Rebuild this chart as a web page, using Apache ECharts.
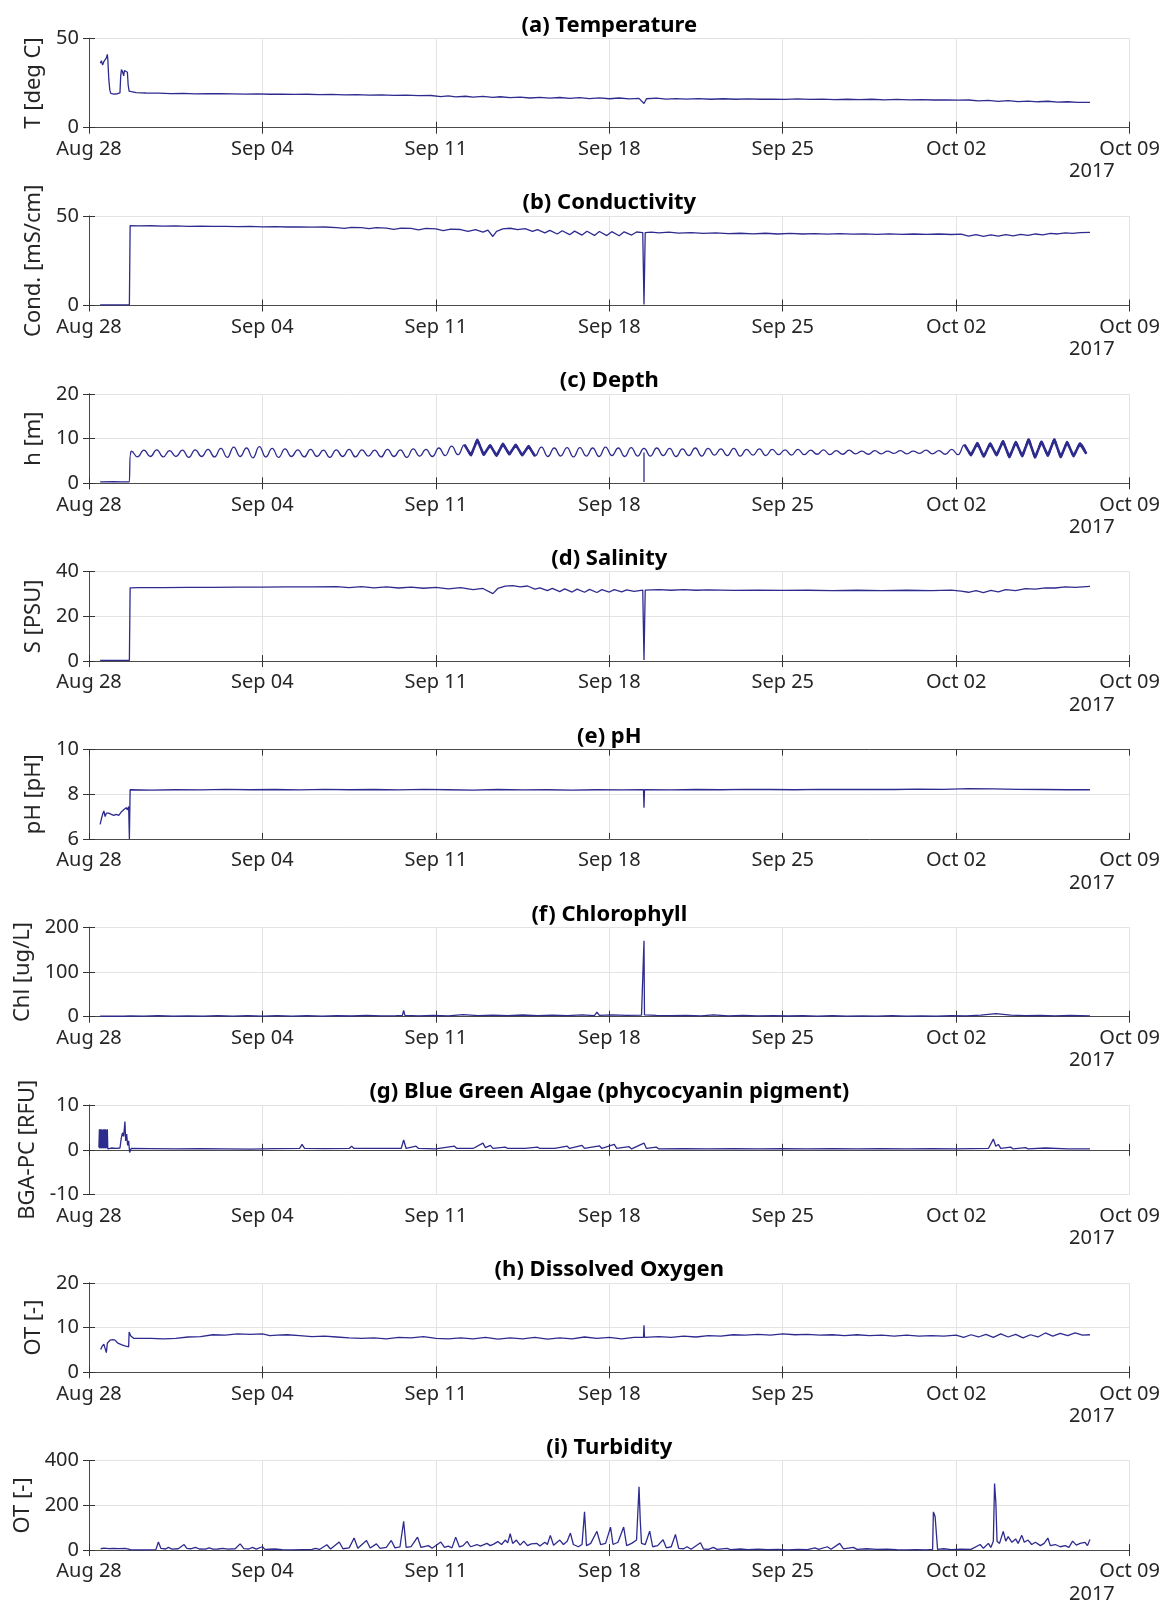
<!DOCTYPE html>
<html>
<head>
<meta charset="utf-8">
<script src="https://cdn.jsdelivr.net/npm/echarts@6/dist/echarts.min.js"></script>
<style>
html,body{margin:0;padding:0;background:#fff;}
#chart{width:1174px;height:1601px;}
</style>
</head>
<body>
<div id="chart"></div>
<script>
// x values are days since Aug 28 2017 00:00
const xTickLabels = ['Aug 28','Sep 04','Sep 11','Sep 18','Sep 25','Oct 02','Oct 09'];
const yearLabel = '2017';

const titles = ['(a) Temperature','(b) Conductivity','(c) Depth','(d) Salinity','(e) pH','(f) Chlorophyll',
  '(g) Blue Green Algae (phycocyanin pigment)','(h) Dissolved Oxygen','(i) Turbidity'];
const yNames = ['T [deg C]','Cond. [mS/cm]','h [m]','S [PSU]','pH [pH]','Chl [ug/L]','BGA-PC [RFU]','OT [-]','OT [-]'];
const yMins = [0,0,0,0,6,0,-10,0,0];
const yMaxs = [50,50,20,40,10,200,10,20,400];
const yIntervals = [50,50,10,20,2,100,10,10,200];

const tempData = [[0.46,36],[0.5,37.5],[0.55,35],[0.6,37],[0.65,38],[0.7,39],[0.74,41],[0.76,38],[0.8,27],[0.84,21],[0.88,19.2],
[1.0,18.8],[1.15,19],[1.25,19.5],[1.28,29],[1.31,32.5],[1.36,31],[1.4,29],[1.43,32],[1.5,32.5],[1.55,31],[1.58,24],[1.62,20.5],
[1.7,20],[1.9,19.6],[2.3,19.4],[2.8,19.3],[3.3,19.1],[3.8,19.2],[4.3,18.9],[4.8,19.0],[5.3,19.0],[5.8,18.9],[6.3,18.8],[6.8,18.9],
[7.3,18.7],[7.8,18.8],[8.3,18.6],[8.8,18.7],[9.3,18.5],[9.8,18.6],[10.3,18.4],[10.8,18.5],[11.3,18.2],[11.8,18.4],[12.3,18.1],
[12.8,18.2],[13.3,17.9],[13.8,18.0],[14.2,17.4],[14.5,17.8],[14.8,17.2],[15.2,17.6],[15.5,17.1],[15.9,17.5],[16.3,17.0],[16.6,17.3],
[17.0,16.8],[17.4,17.1],[17.8,16.6],[18.2,17.0],[18.6,16.5],[19.0,16.9],[19.4,16.4],[19.8,16.8],[20.2,16.3],[20.6,16.7],[21.0,16.2],
[21.4,16.6],[21.8,16.1],[22.2,16.4],[22.4,13.5],[22.5,16.2],[22.9,16.5],[23.3,16.0],[23.7,16.3],[24.1,16.0],[24.6,16.3],[25.1,15.9],
[25.6,16.2],[26.1,15.9],[26.6,16.1],[27.1,15.9],[27.6,16.0],[28.1,15.8],[28.6,16.1],[29.1,15.8],[29.6,16.0],[30.1,15.7],[30.6,15.9],
[31.1,15.7],[31.6,15.9],[32.1,15.6],[32.6,15.8],[33.1,15.6],[33.6,15.7],[34.1,15.5],[34.6,15.6],[35.1,15.4],[35.5,15.5],[35.9,15.0],
[36.3,15.3],[36.7,14.7],[37.1,15.1],[37.5,14.6],[37.9,14.9],[38.3,14.5],[38.7,14.8],[39.1,14.3],[39.5,14.5],[39.9,14.2],[40.4,14.2]];

const condData = [[0.45,0.3],[1.2,0.3],[1.63,0.3],[1.66,44.6],[2.0,44.5],[2.5,44.6],[3.0,44.4],[3.5,44.5],[4.0,44.3],[4.5,44.4],
[5.0,44.2],[5.5,44.3],[6.0,44.1],[6.5,44.2],[7.0,44.0],[7.5,44.1],[8.0,43.9],[8.5,44.0],[9.0,43.8],[9.5,43.9],[10.0,43.6],[10.3,43.1],
[10.6,43.7],[11.0,43.5],[11.3,43.0],[11.6,43.5],[12.0,43.3],[12.3,42.6],[12.6,43.3],[13.0,43.1],[13.3,42.3],[13.6,43.1],[14.0,42.8],
[14.3,41.9],[14.6,42.7],[15.0,42.5],[15.3,41.5],[15.6,42.4],[15.9,41.0],[16.1,42.2],[16.3,38.6],[16.45,41.5],[16.7,42.8],[17.0,43.2],
[17.3,42.4],[17.6,43.0],[17.9,41.4],[18.1,42.4],[18.4,40.6],[18.6,42.0],[18.9,40.0],[19.1,41.8],[19.4,39.6],[19.6,41.6],[19.9,39.4],
[20.1,41.5],[20.4,39.2],[20.6,41.4],[20.9,39.1],[21.1,41.3],[21.4,39.0],[21.6,41.2],[21.9,39.4],[22.1,41.1],[22.35,40.8],[22.4,0.5],
[22.45,40.8],[22.7,41.0],[23.0,40.6],[23.4,41.0],[23.8,40.5],[24.3,40.8],[24.8,40.3],[25.3,40.6],[25.8,40.2],[26.3,40.4],[26.8,40.1],
[27.3,40.4],[27.8,40.0],[28.3,40.3],[28.8,40.0],[29.3,40.2],[29.8,39.9],[30.3,40.2],[30.8,39.9],[31.3,40.1],[31.8,39.8],[32.3,40.1],
[32.8,39.8],[33.3,40.0],[33.8,39.8],[34.3,40.0],[34.8,39.7],[35.2,39.9],[35.5,38.8],[35.8,39.6],[36.1,38.6],[36.4,39.5],[36.7,38.8],
[37.0,39.6],[37.3,38.9],[37.6,39.8],[37.9,39.2],[38.2,40.0],[38.5,39.5],[38.8,40.3],[39.1,40.0],[39.4,40.6],[39.7,40.3],[40.0,40.8],[40.4,40.9]];

// depth: pre-deployment points, then a fixed 6.21 h sample interval (alternating high / low water)
const depthPre = [[0.45,0.3],[1.0,0.35],[1.63,0.3],[1.66,6.3]];
const depthStart = 1.70;
const depthStep = 0.25875;
const depthValues = [7.2,5.9,7.4,6.0,7.5,5.9,7.3,6.0,7.4,5.8,7.5,6.0,
7.6,5.9,7.8,5.8,8.1,6.0,7.9,5.7,8.2,5.9,7.8,5.8,7.7,6.0,
7.5,5.9,7.6,6.0,7.4,5.8,7.5,6.0,7.6,5.9,7.5,6.1,7.4,5.9,7.6,6.0,7.5,5.8,7.7,6.1,7.6,6.0,7.9,6.2,
8.3,6.4,8.6,6.3,9.7,6.4,8.5,6.2,8.8,6.5,8.6,6.3,8.3,6.1,
8.1,6.0,7.9,6.1,8.0,5.9,8.0,6.1,7.9,6.0,8.1,6.2,7.9,6.0,8.0,6.1,
7.8,6.1,7.9,6.2,7.8,6.0,7.7,6.2,7.9,6.1,7.8,6.3,7.7,6.2,7.8,6.1,7.6,6.3,7.7,6.2,7.6,6.4,7.5,6.3,7.6,6.4,7.4,6.5,7.5,6.4,
7.3,6.5,7.4,6.6,7.2,6.5,7.3,6.6,7.2,6.7,7.3,6.6,7.2,6.7,7.4,6.6,7.3,6.5,7.6,6.4,
8.6,6.3,9.0,6.0,8.9,6.3,9.4,5.9,9.2,6.1,9.8,5.8,9.3,6.2,9.8,5.9,9.2,6.1,8.9,6.6];
const depthDropout = [[22.40,6.9],[22.40,0.3]];
// periods in which the depth record is noisy (drawn heavier), in days
const depthNoisyPeriods = [[15.1,18.1],[35.2,40.4]];

const salData = [[0.45,0.3],[1.2,0.3],[1.63,0.3],[1.66,32.8],[2.0,32.9],[3.0,32.9],[4.0,33.0],[5.0,33.0],[6.0,33.1],[7.0,33.1],
[8.0,33.2],[9.0,33.2],[10.0,33.3],[10.5,32.9],[11.0,33.3],[11.5,32.8],[12.0,33.2],[12.5,32.7],[13.0,33.1],[13.5,32.6],[14.0,33.0],
[14.5,32.3],[15.0,32.9],[15.5,32.0],[15.9,32.5],[16.3,30.2],[16.5,32.5],[16.8,33.5],[17.1,33.8],[17.4,33.2],[17.7,33.6],[18.0,32.2],
[18.2,32.8],[18.5,31.5],[18.7,32.5],[19.0,31.1],[19.2,32.3],[19.5,30.9],[19.7,32.2],[20.0,30.8],[20.2,32.1],[20.5,30.7],[20.7,32.0],
[21.0,30.9],[21.2,32.0],[21.5,31.0],[21.7,31.9],[22.0,31.2],[22.35,31.8],[22.4,0.5],[22.45,31.8],[23.0,32.0],[23.5,31.7],[24.0,32.0],
[24.5,31.7],[25.0,31.9],[26.0,31.6],[27.0,31.8],[28.0,31.6],[29.0,31.7],[30.0,31.5],[31.0,31.7],[32.0,31.5],[33.0,31.7],[34.0,31.5],
[34.8,31.8],[35.2,31.3],[35.5,30.8],[35.8,31.5],[36.1,30.6],[36.4,31.6],[36.7,31.0],[37.0,32.0],[37.4,31.5],[37.8,32.4],[38.2,32.2],
[38.6,32.8],[39.0,32.7],[39.4,33.2],[39.8,33.0],[40.4,33.4]];

const phData = [[0.45,6.65],[0.5,6.9],[0.55,7.1],[0.6,7.25],[0.65,7.0],[0.7,7.15],[0.8,7.15],[0.9,7.1],[1.0,7.05],[1.1,7.1],
[1.2,7.05],[1.3,7.2],[1.4,7.3],[1.5,7.4],[1.55,7.3],[1.6,7.45],[1.63,6.0],[1.66,8.2],[2.5,8.18],[3.5,8.2],[4.5,8.19],[5.5,8.22],
[6.5,8.2],[7.5,8.21],[8.5,8.19],[9.5,8.22],[10.5,8.2],[11.5,8.21],[12.5,8.19],[13.5,8.22],[14.5,8.2],[15.5,8.18],[16.5,8.21],
[17.5,8.19],[18.5,8.2],[19.5,8.18],[20.5,8.2],[21.5,8.19],[22.38,8.2],[22.4,7.4],[22.42,8.2],[23.5,8.19],[24.5,8.21],[25.5,8.2],
[26.5,8.22],[27.5,8.21],[28.5,8.2],[29.5,8.22],[30.5,8.21],[31.5,8.22],[32.5,8.21],[33.5,8.23],[34.5,8.22],[35.5,8.25],[36.5,8.24],
[37.5,8.22],[38.5,8.21],[39.5,8.2],[40.4,8.2]];

const chlData = [[0.45,1],[0.9,1.5],[1.4,1],[1.66,2],[2.2,1.5],[2.8,2.5],[3.4,1.5],[4.0,2],[4.6,1.2],[5.2,2.2],[5.8,1.5],[6.4,2.5],
[7.0,1.5],[7.6,2.2],[8.2,1.4],[8.8,2.6],[9.4,1.5],[10.0,2.4],[10.6,1.6],[11.2,3],[11.8,1.8],[12.4,2.5],[12.65,3],[12.7,14],[12.75,3],
[13.3,2],[13.9,3],[14.5,2],[15.1,4.5],[15.7,2.2],[16.3,3.5],[16.9,2.4],[17.5,3.8],[18.1,2.5],[18.7,3.5],[19.3,2.5],[19.9,4],[20.4,2.5],
[20.5,10],[20.6,3],[21.1,4],[21.7,3],[22.3,3.5],[22.38,5],[22.4,170],[22.42,4],[22.9,3],[23.5,2.5],[24.1,3],[24.7,2],[25.2,4],[25.8,2],
[26.4,3],[27.0,1.8],[27.6,2.6],[28.2,1.6],[28.8,2.2],[29.4,1.5],[30.0,2.4],[30.6,1.5],[31.2,2],[31.8,1.4],[32.4,2.2],[33.0,1.5],
[33.6,2],[34.2,1.4],[34.8,2.4],[35.4,2],[36.0,3.5],[36.6,7],[37.2,3.5],[37.8,2.5],[38.4,3],[39.0,2],[39.6,2.8],[40.4,2]];

const bgaData = [[0.40,0.5],[0.42,4.6],[0.44,0.3],[0.46,4.6],[0.48,0.4],[0.50,4.6],[0.52,0.3],[0.54,4.5],[0.56,0.4],[0.58,4.6],
[0.60,0.3],[0.62,4.6],[0.64,0.4],[0.66,4.6],[0.68,0.3],[0.70,4.5],[0.72,0.4],[0.74,4.6],[0.76,0.2],[0.9,0.4],[1.1,0.3],[1.25,0.4],
[1.3,2.5],[1.35,3.8],[1.4,3.0],[1.45,6.3],[1.48,2.0],[1.52,3.5],[1.56,1.0],[1.6,2.0],[1.64,-0.6],[1.7,0.3],[2.5,0.25],[3.5,0.2],
[4.5,0.25],[5.5,0.2],[6.5,0.15],[7.5,0.25],[8.5,0.3],[8.6,1.2],[8.7,0.3],[9.5,0.25],[10.5,0.3],[10.6,0.8],[10.7,0.3],[11.8,0.3],
[11.85,0.6],[11.9,0.3],[12.6,0.3],[12.7,2.2],[12.8,0.3],[13.2,0.8],[13.3,0.3],[14.0,0.2],[14.75,0.8],[14.85,0.3],[15.5,0.3],
[15.9,1.5],[16.0,0.5],[16.2,1.0],[16.3,0.3],[16.8,0.6],[16.9,0.3],[17.6,0.3],[18.1,0.6],[18.2,0.3],[18.8,0.3],[19.3,0.8],[19.4,0.3],
[19.9,1.0],[20.0,0.3],[20.6,0.9],[20.7,0.3],[21.2,1.2],[21.3,0.3],[21.8,0.7],[21.9,0.2],[22.4,1.5],[22.5,0.3],[22.9,0.6],[23.0,0.2],
[24.0,0.25],[25.0,0.2],[26.0,0.25],[27.0,0.2],[28.0,0.25],[29.0,0.2],[30.0,0.25],[31.0,0.2],[32.0,0.25],[33.0,0.2],[34.0,0.25],
[35.0,0.2],[36.3,0.3],[36.5,2.4],[36.6,0.8],[36.7,1.2],[36.8,0.3],[37.2,0.6],[37.3,0.2],[37.8,0.5],[37.9,0.2],[38.6,0.4],[39.5,0.2],[40.4,0.2]];

const doData = [[0.47,5.1],[0.53,5.8],[0.6,6.3],[0.66,6.1],[0.7,4.4],[0.74,6.5],[0.85,7.2],[0.95,7.3],[1.05,7.2],[1.15,6.6],
[1.3,6.2],[1.45,5.9],[1.6,5.7],[1.62,9.0],[1.68,8.2],[1.8,7.6],[2.5,7.6],[3.0,7.5],[3.5,7.6],[4.0,7.9],[4.5,8.0],[5.0,8.4],[5.5,8.3],
[6.0,8.6],[6.5,8.5],[7.0,8.6],[7.3,8.2],[7.6,8.3],[8.0,8.4],[8.5,8.2],[9.0,8.0],[9.5,8.1],[10.0,7.9],[10.5,7.7],[11.0,7.6],[11.5,7.7],
[12.0,7.5],[12.5,7.8],[13.0,7.7],[13.5,8.0],[14.0,7.6],[14.5,7.5],[15.0,7.7],[15.5,7.5],[16.0,7.8],[16.5,7.4],[17.0,7.7],[17.5,7.5],
[18.0,7.8],[18.5,7.4],[19.0,7.7],[19.5,7.5],[20.0,7.9],[20.5,7.6],[21.0,7.8],[21.5,7.5],[22.0,7.8],[22.38,7.8],[22.4,10.5],[22.42,7.8],
[23.0,8.0],[23.5,7.8],[24.0,8.1],[24.5,7.9],[25.0,8.2],[25.5,8.1],[26.0,8.4],[26.5,8.3],[27.0,8.5],[27.5,8.3],[28.0,8.6],[28.5,8.4],
[29.0,8.5],[29.5,8.3],[30.0,8.4],[30.5,8.2],[31.0,8.4],[31.5,8.2],[32.0,8.3],[32.5,8.1],[33.0,8.3],[33.5,8.1],[34.0,8.2],[34.5,8.1],
[35.0,8.3],[35.3,7.8],[35.6,8.4],[35.9,7.9],[36.2,8.5],[36.5,7.8],[36.8,8.6],[37.1,7.9],[37.4,8.5],[37.7,7.7],[38.0,8.4],[38.3,7.9],
[38.6,8.8],[38.9,8.1],[39.2,8.7],[39.5,8.2],[39.8,8.8],[40.1,8.3],[40.4,8.4]];

const turbData = [[0.47,6],[0.6,9],[0.8,7],[1.0,8],[1.2,7],[1.45,8],[1.6,4],[1.7,1],[2.0,0.5],[2.5,1],[2.7,2],[2.8,36],[2.9,8],
[3.1,5],[3.2,12],[3.35,4],[3.6,6],[3.84,25],[3.95,8],[4.1,6],[4.3,12],[4.45,5],[4.7,4],[4.85,10],[5.0,4],[5.2,5],[5.4,8],[5.6,4],
[5.9,6],[6.1,28],[6.25,7],[6.45,5],[6.6,12],[6.75,4],[7.0,15],[7.1,3],[7.5,5],[7.8,2],[8.2,1],[8.6,2],[9.0,3],[9.15,8],[9.3,3],
[9.6,24],[9.75,5],[10.1,36],[10.25,6],[10.5,10],[10.7,54],[10.85,8],[11.2,43],[11.35,9],[11.6,28],[11.75,8],[12.0,12],[12.2,43],
[12.35,10],[12.55,14],[12.7,129],[12.8,12],[13.0,16],[13.26,58],[13.4,12],[13.7,20],[13.85,8],[14.2,36],[14.35,12],[14.5,18],
[14.65,10],[14.8,58],[14.95,14],[15.1,20],[15.26,39],[15.4,15],[15.66,25],[15.8,18],[16.06,30],[16.2,20],[16.35,28],[16.5,38],
[16.65,25],[16.8,45],[16.9,32],[17.0,73],[17.1,30],[17.25,45],[17.4,22],[17.55,40],[17.7,20],[17.85,28],[18.08,30],[18.2,18],
[18.4,35],[18.5,25],[18.62,66],[18.75,22],[19.0,45],[19.15,25],[19.3,40],[19.43,76],[19.55,25],[19.75,15],[19.9,25],[20.0,171],
[20.08,20],[20.25,30],[20.5,84],[20.65,25],[20.85,30],[21.05,103],[21.15,25],[21.35,35],[21.58,103],[21.7,20],[21.9,30],[22.1,45],
[22.2,283],[22.25,130],[22.3,30],[22.45,25],[22.63,85],[22.75,15],[22.95,20],[23.17,46],[23.3,10],[23.5,15],[23.67,70],[23.8,8],
[24.0,6],[24.14,15],[24.3,4],[24.68,33],[24.8,5],[25.0,3],[25.2,12],[25.35,3],[25.75,8],[25.9,2],[26.3,5],[26.6,2],[27.0,4],[27.4,2],
[27.8,3],[28.2,1],[28.6,3],[29.0,2],[29.3,10],[29.45,3],[29.8,15],[29.95,4],[30.3,30],[30.45,5],[30.85,12],[31.0,3],[31.4,6],[31.8,3],
[32.2,4],[32.6,2],[33.0,1],[33.4,2],[33.8,1],[34.05,3],[34.08,171],[34.15,150],[34.2,144],[34.25,3],[34.5,6],[34.8,2],[35.2,4],
[35.6,3],[35.97,25],[36.1,8],[36.3,30],[36.4,12],[36.5,40],[36.55,298],[36.6,216],[36.65,40],[36.75,30],[36.9,84],[37.0,40],[37.1,60],
[37.25,35],[37.4,50],[37.5,30],[37.65,66],[37.75,35],[37.9,45],[38.05,25],[38.2,35],[38.4,20],[38.55,30],[38.7,54],[38.8,20],
[39.0,25],[39.2,15],[39.4,20],[39.55,12],[39.7,40],[39.85,22],[40.0,30],[40.2,35],[40.3,20],[40.4,48]];

// assemble depth series from its pieces
const depthData = depthPre.concat(depthValues.map((v, i) => [depthStart + i * depthStep, v]));

const seriesData = [tempData, condData, depthData, salData, phData, chlData, bgaData, doData, turbData];
const nameGaps = [41, 41, 41, 41, 41, 52, 48, 41, 52];

// layout
const GL = 89, GW = 1040.6, GT0 = 38.3, GSTEP = 177.8, GH = 89.4;
const FONT = "'Noto Sans', 'Open Sans', sans-serif";
const LINE = '#2e2b8e';
const AX = '#4a4a4a';
const TXT = '#262626';

const grids = [], xAxes = [], yAxes = [], series = [], titleOpts = [], graphics = [];
for (let i = 0; i < 9; i++) {
  const top = GT0 + i * GSTEP;
  grids.push({left: GL, top: top, width: GW, height: GH, containLabel: false});
  const xBase = {gridIndex: i, type: 'value', min: 0, max: 42, interval: 7};
  xAxes.push(Object.assign({}, xBase, {
    position: 'bottom',
    axisLine: {show: true, lineStyle: {color: AX, width: 1}},
    axisTick: {show: true, inside: true, length: 6, lineStyle: {color: '#333', width: 1}},
    axisLabel: {show: true, margin: 11.5, color: TXT, fontSize: 20, fontFamily: FONT,
      formatter: v => xTickLabels[Math.round(v / 7)]},
    splitLine: {show: true, lineStyle: {color: '#e3e3e3', width: 1}}
  }));
  xAxes.push(Object.assign({}, xBase, {
    position: 'top',
    axisLine: {show: true, lineStyle: {color: AX, width: 1}},
    axisTick: {show: true, inside: true, length: 6, lineStyle: {color: '#333', width: 1}},
    axisLabel: {show: false}, splitLine: {show: false}
  }));
  const yBase = {gridIndex: i, type: 'value', min: yMins[i], max: yMaxs[i], interval: yIntervals[i]};
  yAxes.push(Object.assign({}, yBase, {
    position: 'left',
    name: yNames[i], nameLocation: 'middle', nameGap: nameGaps[i], nameRotate: 90,
    nameTextStyle: {color: TXT, fontSize: 22, fontFamily: FONT},
    axisLine: {show: true, lineStyle: {color: AX, width: 1}},
    axisTick: {show: true, inside: true, length: 6, lineStyle: {color: '#333', width: 1}},
    axisLabel: {show: true, margin: 10, color: TXT, fontSize: 20, fontFamily: FONT},
    splitLine: {show: true, lineStyle: {color: '#e3e3e3', width: 1}}
  }));
  yAxes.push(Object.assign({}, yBase, {
    position: 'right',
    axisLine: {show: true, lineStyle: {color: AX, width: 1}},
    axisTick: {show: true, inside: true, length: 6, lineStyle: {color: '#333', width: 1}},
    axisLabel: {show: false}, splitLine: {show: false}
  }));
  const isDepth = (i === 2);
  series.push({
    type: 'line', xAxisIndex: 2 * i, yAxisIndex: 2 * i, data: seriesData[i],
    showSymbol: false, symbol: 'none', smooth: isDepth ? 0.5 : false, smoothMonotone: 'x',
    lineStyle: {color: LINE, width: 1.3}, z: 3
  });
  if (isDepth) {
    series.push({
      type: 'line', xAxisIndex: 2 * i, yAxisIndex: 2 * i, data: depthDropout,
      showSymbol: false, symbol: 'none', lineStyle: {color: LINE, width: 1.3}, z: 3
    });
    depthNoisyPeriods.forEach(p => {
      series.push({
        type: 'line', xAxisIndex: 2 * i, yAxisIndex: 2 * i,
        data: depthData.filter(d => d[0] >= p[0] && d[0] <= p[1]),
        showSymbol: false, symbol: 'none', lineStyle: {color: LINE, width: 2.6, join: 'round'}, z: 4
      });
    });
  }
  titleOpts.push({
    text: titles[i], left: GL + GW / 2, textAlign: 'center', top: top - 24, padding: 0,
    textStyle: {color: '#000', fontSize: 22, fontWeight: 'bold', fontFamily: FONT}
  });
  graphics.push({
    type: 'text', left: 1069, top: top + GH + 34,
    style: {text: yearLabel, fill: TXT, font: '20px ' + FONT}
  });
}

const chart = echarts.init(document.getElementById('chart'), null, {renderer: 'canvas'});
chart.setOption({
  animation: false,
  backgroundColor: '#fff',
  title: titleOpts,
  grid: grids,
  xAxis: xAxes,
  yAxis: yAxes,
  series: series,
  graphic: graphics
});
</script>
</body>
</html>
